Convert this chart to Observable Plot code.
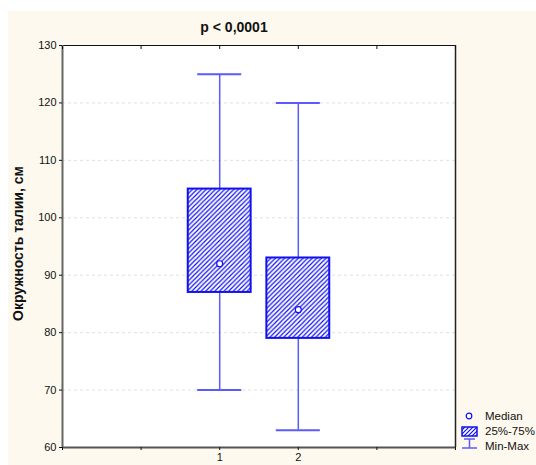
<!DOCTYPE html>
<html>
<head>
<meta charset="utf-8">
<script src="https://cdn.jsdelivr.net/npm/d3@7"></script>
<script src="https://cdn.jsdelivr.net/npm/@observablehq/plot@0.6"></script>
<style>
  html, body { margin: 0; padding: 0; background: #ffffff; }
  #wrap { position: relative; width: 536px; height: 465px; overflow: hidden; }
  #bg { position: absolute; left: 8px; top: 11px; width: 528px; height: 454px; background: #fdf9ee; }
  #chart { position: absolute; left: 0; top: 0; }
  #legend { position: absolute; left: 458px; top: 406px; overflow: visible; }
</style>
</head>
<body>
<div id="wrap">
  <div id="bg"></div>
  <div id="chart"></div>
  <svg id="legend" width="78" height="50"></svg>
</div>
<script>
// Waist circumference by group: min, quartiles, median, max
const groups = ["1", "2"];
const positions = [1, 2];
const minVals = [70, 63];
const q1Vals = [87, 79];
const medianVals = [92, 84];
const q3Vals = [105, 93];
const maxVals = [125, 120];
const yTicks = [60, 70, 80, 90, 100, 110, 120, 130];
const xTicks = [-1, 0, 1, 2, 3, 4];
const titleText = "p < 0,0001";
const yLabel = "Окружность талии, см";
const legendLabels = ["Median", "25%-75%", "Min-Max"];

const rows = groups.map((g, i) => ({
  group: g, x: positions[i], min: minVals[i], q1: q1Vals[i],
  median: medianVals[i], q3: q3Vals[i], max: maxVals[i]
}));

const blue = "#1010f0";
const whisker = "#5a5aff";
const boxHalf = 0.4;
const capHalf = 0.28;
const font = "'Liberation Sans', Arial, sans-serif";

const chart = Plot.plot({
  width: 536,
  height: 465,
  marginLeft: 62,
  marginRight: 81,
  marginTop: 45,
  marginBottom: 18,
  style: { background: "transparent", fontFamily: font, fontSize: "11px", color: "#111" },
  x: { domain: [-1, 4] },
  y: { domain: [60, 130] },
  marks: [
    Plot.frame({ fill: "white", stroke: "none" }),
    Plot.gridY(yTicks.filter(t => t > 60 && t < 130), { stroke: "#e0e0e0", strokeOpacity: 1, strokeDasharray: "3,3" }),
    // whiskers
    Plot.ruleX(rows, { x: "x", y1: "min", y2: "q1", stroke: whisker, strokeWidth: 1.5 }),
    Plot.ruleX(rows, { x: "x", y1: "q3", y2: "max", stroke: whisker, strokeWidth: 1.5 }),
    Plot.ruleY(rows, { y: "min", x1: d => d.x - capHalf, x2: d => d.x + capHalf, stroke: whisker, strokeWidth: 2 }),
    Plot.ruleY(rows, { y: "max", x1: d => d.x - capHalf, x2: d => d.x + capHalf, stroke: whisker, strokeWidth: 2 }),
    // interquartile boxes
    Plot.rect(rows, { x1: d => d.x - boxHalf, x2: d => d.x + boxHalf, y1: "q1", y2: "q3",
      fill: "url(#hatch)", stroke: blue, strokeWidth: 2 }),
    // medians
    Plot.dot(rows, { x: "x", y: "median", r: 3, fill: "white", stroke: blue, strokeWidth: 1.2 }),
    // frame: top and right thin black, left and bottom gray axes
    Plot.ruleY([130], { stroke: "#111", strokeWidth: 1 }),
    Plot.ruleX([4], { stroke: "#222", strokeWidth: 1.5 }),
    Plot.ruleY([60], { stroke: "#555", strokeWidth: 2 }),
    Plot.ruleX([-1], { stroke: "#666", strokeWidth: 2 }),
    Plot.axisY({ ticks: yTicks, tickSize: 3, tickPadding: 3, label: null, tickFormat: d => String(d) }),
    Plot.axisX({ ticks: xTicks, anchor: "bottom", tickSize: 3, tickPadding: 3, label: null,
      tickFormat: d => (positions.includes(d) ? groups[positions.indexOf(d)] : "") }),
    Plot.axisX({ ticks: xTicks, anchor: "top", tickSize: -3, tickFormat: () => "", label: null }),
    Plot.text([titleText], { frameAnchor: "top", dx: -25, dy: -14, lineAnchor: "bottom", fontSize: 14, fontWeight: "bold", fill: "#111" }),
    Plot.text([yLabel], { frameAnchor: "left", textAnchor: "middle", dx: -44, dy: -3, rotate: -90, fontSize: 14, fontWeight: "bold", fill: "#111" })
  ]
});

// hatch pattern used by the boxes
const svgNS = "http://www.w3.org/2000/svg";
function addHatch(svg, id, size) {
  const defs = document.createElementNS(svgNS, "defs");
  const pat = document.createElementNS(svgNS, "pattern");
  pat.setAttribute("id", id);
  pat.setAttribute("patternUnits", "userSpaceOnUse");
  pat.setAttribute("width", size);
  pat.setAttribute("height", size);
  const bgRect = document.createElementNS(svgNS, "rect");
  bgRect.setAttribute("width", size); bgRect.setAttribute("height", size); bgRect.setAttribute("fill", "white");
  const path = document.createElementNS(svgNS, "path");
  path.setAttribute("d", `M-1,1 L1,-1 M0,${size} L${size},0 M${size - 1},${size + 1} L${size + 1},${size - 1}`);
  path.setAttribute("stroke", blue);
  path.setAttribute("stroke-width", "1.2");
  pat.appendChild(bgRect); pat.appendChild(path); defs.appendChild(pat);
  svg.insertBefore(defs, svg.firstChild);
}
addHatch(chart, "hatch", 4.6);
document.getElementById("chart").appendChild(chart);

// legend
const lg = d3.select("#legend");
addHatch(lg.node(), "hatchL", 4);
lg.append("circle").attr("cx", 11).attr("cy", 10).attr("r", 2.8).attr("fill", "white").attr("stroke", blue).attr("stroke-width", 1.2);
lg.append("rect").attr("x", 4).attr("y", 21).attr("width", 15).attr("height", 9).attr("fill", "url(#hatchL)").attr("stroke", blue).attr("stroke-width", 1.5);
lg.append("line").attr("x1", 6).attr("x2", 17).attr("y1", 33).attr("y2", 33).attr("stroke", whisker).attr("stroke-width", 1.5);
lg.append("line").attr("x1", 11.5).attr("x2", 11.5).attr("y1", 33).attr("y2", 42).attr("stroke", whisker).attr("stroke-width", 1.5);
lg.append("line").attr("x1", 4).attr("x2", 19).attr("y1", 42).attr("y2", 42).attr("stroke", whisker).attr("stroke-width", 1.5);
legendLabels.forEach((t, i) => {
  lg.append("text").attr("x", 27).attr("y", 14 + i * 15).attr("font-family", font).attr("font-size", 11.5).attr("fill", "#111").text(t);
});
</script>
</body>
</html>
